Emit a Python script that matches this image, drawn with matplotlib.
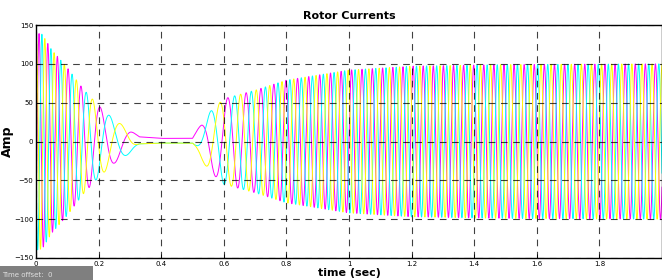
import numpy as np
import matplotlib
matplotlib.use("Agg")
import matplotlib.pyplot as plt

# ---- data ----
# envelope (peak amplitude, A) of the three-phase rotor currents
env_t = [0.0, 0.02, 0.05, 0.10, 0.15, 0.20, 0.25, 0.30, 0.33, 0.40, 0.50, 0.53, 0.56, 0.60, 0.70, 0.80, 1.00, 1.20, 1.50, 2.00]
env_a = [140, 138, 118, 95, 68, 46, 28, 15, 6, 4, 4, 25, 40, 55, 66, 79, 92, 97, 99, 100]
# rotor (slip) frequency, Hz
frq_t = [0.0, 0.08, 0.14, 0.18, 0.22, 0.30, 0.33, 0.50, 0.55, 0.60, 0.65, 0.75, 0.85, 1.00, 1.20, 2.00]
frq_f = [38, 30, 22, 15, 11, 7, 0, 0, 10, 13, 18, 25, 28, 30, 31, 31]
phase_names = ["Ia", "Ib", "Ic"]
phase_colors = ["#ff00ff", "#00ffff", "#ffff00"]
x_ticks = [0, 0.2, 0.4, 0.6, 0.8, 1.0, 1.2, 1.4, 1.6, 1.8]
x_ticklabels = ["0", "0.2", "0.4", "0.6", "0.8", "1", "1.2", "1.4", "1.6", "1.8"]
y_ticks = [-150, -100, -50, 0, 50, 100, 150]

t = np.linspace(0, 2.0, 40001)
A = np.interp(t, env_t, env_a)
f = np.interp(t, frq_t, frq_f)
phi = np.concatenate([[0], np.cumsum(0.5 * (f[1:] + f[:-1]) * np.diff(t))]) * 2 * np.pi
phi -= np.interp(0.4, t, phi)  # phase reference in the quiet (DC) interval

fig = plt.figure(figsize=(6.62, 2.8), dpi=100)
ax = fig.add_axes([36/662, 1-258/280, 626/662, 233/280])
for k, (name, c) in enumerate(zip(phase_names, phase_colors)):
    ax.plot(t, A * np.cos(phi - k * 2 * np.pi / 3), color=c, lw=0.7, label=name)

ax.set_xlim(0, 2.0)
ax.set_ylim(-150, 150)
ax.set_xticks(x_ticks)
ax.set_xticklabels(x_ticklabels)
ax.set_yticks(y_ticks)
ax.tick_params(direction="in", labelsize=5, length=3, width=0.6, pad=2)
ax.grid(True, color="black", linestyle=(0, (6, 5)), linewidth=0.8, alpha=0.75)
ax.set_axisbelow(False)
for s in ax.spines.values():
    s.set_linewidth(1.0)
ax.set_title("Rotor Currents", fontsize=8, fontweight="bold", pad=4)
ax.set_xlabel("time (sec)", fontsize=8, fontweight="bold", labelpad=1)
ax.set_ylabel("Amp", fontsize=9, fontweight="bold")
ax.yaxis.set_label_coords(-0.036, 0.5)

fig.text(0.003, 0.012, "Time offset:  0", fontsize=5, color="#e0e0e0")
fig.patches.append(matplotlib.patches.Rectangle((0, 0), 93/662, 14/280, transform=fig.transFigure,
                                                 facecolor="#7f7f7f", edgecolor="none", zorder=-1))
fig.savefig("out.png", dpi=100)
